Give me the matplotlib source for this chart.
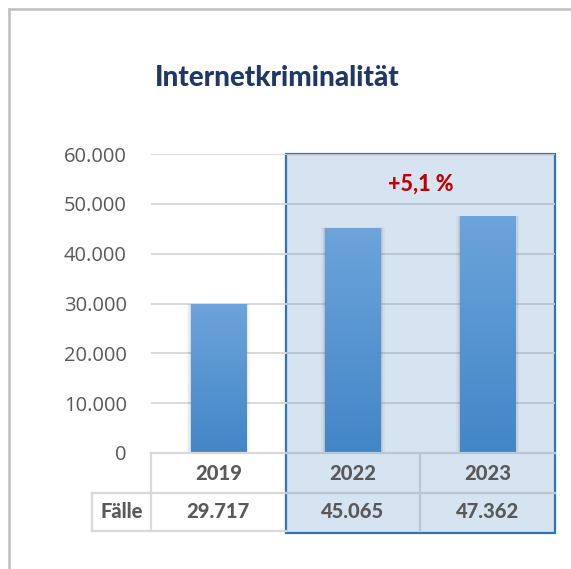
import numpy as np
import matplotlib.pyplot as plt
from matplotlib.patches import Rectangle
from matplotlib.lines import Line2D
from matplotlib.colors import LinearSegmentedColormap

# Daten
jahre = ["2019", "2022", "2023"]
faelle = [29717, 45065, 47362]
faelle_txt = ["29.717", "45.065", "47.362"]
yticks = [0, 10000, 20000, 30000, 40000, 50000, 60000]
ytick_labels = ["0", "10.000", "20.000", "30.000", "40.000", "50.000", "60.000"]
titel = "Internetkriminalität"
zeilen_titel = "Fälle"
veraenderung = "+5,1 %"

W, H = 571, 569
fig = plt.figure(figsize=(W / 100, H / 100), dpi=100)

# Achse in Pixeln: x 151..555, y 154..453
ax = fig.add_axes([151 / W, (H - 453) / H, 404 / W, 299 / H])
ymax = 60000


def py(ypx):
    # Pixelzeile -> Datenwert
    return (453 - ypx) * ymax / 299


grau = "#595959"
linie = "#D9D9D9"
linie_box = "#BAC6D2"
fett = dict(fontfamily="Lato", fontweight="black")

x = np.arange(len(jahre))

# Hervorhebung 2022/2023
ax.add_patch(Rectangle((0.5, py(533)), 2.0, ymax - py(533), facecolor="#D6E3F0",
                       edgecolor="#2E75B6", lw=1.6, zorder=0.5, clip_on=False))

# Gitterlinien
for t in yticks[1:]:
    ax.hlines(t, -0.5, 0.5, color=linie, lw=1.4, zorder=1)
    ax.hlines(t, 0.5, 2.5, color=linie_box, lw=1.4, zorder=1)

# Balken mit Verlauf und leichtem Schatten
cmap = LinearSegmentedColormap.from_list("blau", ["#4286C7", "#6CA4DB"])
bw = 0.41
grad = np.linspace(0, 1, 256).reshape(-1, 1)
for xi, v in zip(x, faelle):
    for k, a in [(0.03, 0.03), (0.018, 0.05), (0.008, 0.07)]:
        ax.add_patch(Rectangle((xi - bw / 2 - k, 0), bw + 2 * k, v + k * 8000,
                               facecolor="black", alpha=a, lw=0, zorder=1.5))
    ax.imshow(grad, extent=(xi - bw / 2, xi + bw / 2, 0, v), origin="lower",
              cmap=cmap, aspect="auto", zorder=2)

ax.set_xlim(-0.5, 2.5)
ax.set_ylim(0, ymax)
ax.set_yticks(yticks)
ax.set_yticklabels(ytick_labels, fontfamily="Open Sans", fontsize=14.5, color=grau)
ax.tick_params(axis="y", length=0, pad=17.5)
ax.set_xticks([])
for s in ax.spines.values():
    s.set_visible(False)
ax.patch.set_alpha(0)

# Tabelle unter dem Diagramm
y0, y1, y2 = 0, py(493), py(531)
kw = dict(clip_on=False, zorder=3)
ax.add_line(Line2D([-0.5, 0.5], [y0, y0], color=linie, lw=1.6, **kw))
ax.add_line(Line2D([0.5, 2.5], [y0, y0], color=linie_box, lw=1.6, **kw))
xf = -0.5 - 59 / 134.7
ax.add_line(Line2D([xf, 0.5], [y1, y1], color=linie, lw=1.6, **kw))
ax.add_line(Line2D([0.5, 2.5], [y1, y1], color=linie_box, lw=1.6, **kw))
ax.add_line(Line2D([xf, 0.5], [y2, y2], color=linie, lw=1.6, **kw))
ax.add_line(Line2D([xf, xf], [y1, y2], color=linie, lw=1.6, **kw))
ax.add_line(Line2D([-0.5, -0.5], [y0, y2], color=linie, lw=1.6, **kw))
ax.add_line(Line2D([1.5, 1.5], [y0, y2], color=linie_box, lw=1.6, **kw))

for xi, j, f in zip(x, jahre, faelle_txt):
    ax.text(xi, (y0 + y1) / 2, j, ha="center", va="center", fontsize=14.5,
            color=grau, clip_on=False, zorder=4, **fett)
    ax.text(xi, (y1 + y2) / 2, f, ha="center", va="center", fontsize=14.5,
            color=grau, clip_on=False, zorder=4, **fett)
ax.text((xf - 0.5) / 2, (y1 + y2) / 2, zeilen_titel, ha="center", va="center",
        fontsize=14.5, color=grau, clip_on=False, zorder=4, **fett)

# Veränderung
ax.text(1.5, py(184), veraenderung, ha="center", va="center", fontsize=15.5,
        color="#C00000", zorder=4, **fett)

# Titel
fig.text(277 / W, 1 - 78 / H, titel, ha="center", va="center", fontsize=20,
         color="#1F3864", **fett)

# Rahmen links und oben
fig.add_artist(Line2D([9 / W, 9 / W], [0, 1 - 9 / H], color="#BFBFBF", lw=1.8,
                      transform=fig.transFigure))
fig.add_artist(Line2D([9 / W, 1], [1 - 9 / H, 1 - 9 / H], color="#BFBFBF", lw=1.8,
                      transform=fig.transFigure))

fig.savefig("out.png", dpi=100)
